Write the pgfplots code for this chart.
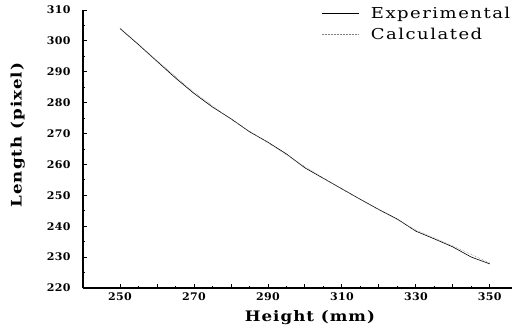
\documentclass[border=0pt]{standalone}
\usepackage{fontspec}
\setmainfont{DejaVu Serif}
\newfontfamily\tickf{DejaVu Serif}[LetterSpace=3, FakeStretch=1.05]
\newfontfamily\labf{DejaVu Serif}[LetterSpace=7, FakeStretch=1.15]
\newfontfamily\legf{DejaVu Serif}[LetterSpace=10, FakeStretch=1.2]
\usepackage{pgfplots}
\pgfplotsset{compat=1.18}
\begin{document}
\begin{tikzpicture}
\path[use as bounding box] (-83pt,-48pt) rectangle (447pt,288pt);
\begin{axis}[
  at={(0,0)}, anchor=south west,
  scale only axis, width=429pt, height=278pt,
  xmin=240, xmax=356, ymin=220, ymax=310,
  axis x line*=bottom, axis y line*=left,
  axis line style={line width=1.1pt, -},
  tick align=inside,
  major tick length=4pt, minor tick length=2pt,
  every tick/.style={black, line width=0.8pt},
  xtick={250,260,...,350},
  xticklabels={250,,270,,290,,310,,330,,350},
  minor x tick num=1,
  ytick={220,230,...,310},
  minor y tick num=1,
  /pgf/number format/assume math mode=true,
  ticklabel style={font=\tickf\bfseries\fontsize{10.5}{12}\selectfont},
  yticklabel style={xshift=-9pt},
  xticklabel style={yshift=-1pt},
  xlabel={Height (mm)},
  ylabel={Length (pixel)},
  label style={font=\labf\bfseries\fontsize{14.5}{17}\selectfont},
  xlabel style={at={(axis description cs:0.529,-0.108)}, anchor=center},
  ylabel style={at={(axis description cs:-0.152,0.55)}, anchor=center},
  legend style={draw=none, fill=none, at={(0.555,1.016)}, anchor=north west,
    font=\legf\fontsize{15}{17}\selectfont, row sep=6pt, inner sep=0pt,
    nodes={inner sep=1pt}},
  legend cell align=left,
  legend image code/.code={\draw[#1] (0pt,0pt) -- (37pt,0pt);},
]
\addplot[black, line width=0.6pt] coordinates {
(250,304) (255,298.8) (260,293.4) (265,288) (270,283) (275,278.6) (280,274.8)
(285,270.6) (290,267.2) (295,263.4) (300,258.9) (305,255.5) (310,252.1)
(315,248.7) (320,245.4) (325,242.3) (330,238.4) (335,235.9) (340,233.3)
(345,230) (350,227.8)
};
\addlegendentry{\hspace*{11pt}Experimental}
\addplot[gray, densely dotted, line width=0.5pt] coordinates {
(250,304.2) (260,293.6) (270,283.4) (280,274.6) (290,267.0) (300,259.3)
(310,252.0) (320,245.3) (330,238.8) (340,233.6) (350,228.1)
};
\addlegendentry{\hspace*{11pt}Calculated}
\end{axis}
\end{tikzpicture}
\end{document}
